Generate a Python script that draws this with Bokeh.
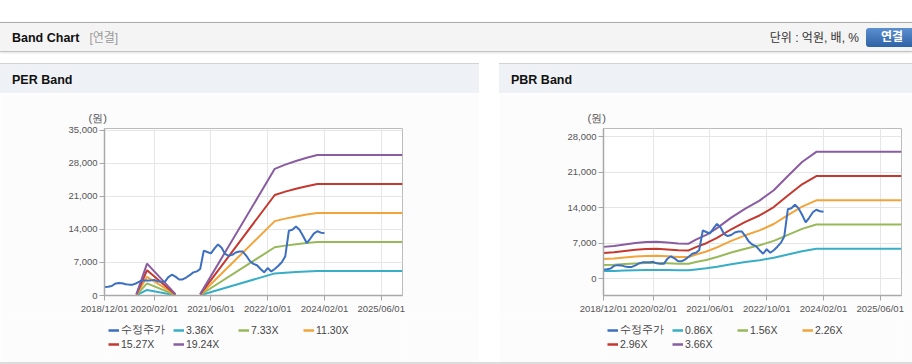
import pandas as pd
from bokeh.plotting import figure
from bokeh.models import (Range1d, FixedTicker, NumeralTickFormatter, DatetimeTickFormatter,
                          Legend, LegendItem, Div)
from bokeh.layouts import column, row
from bokeh.embed import file_html
from bokeh.resources import INLINE

# ---------------- data ----------------
x_start = "2018-12-01"
x_end = "2025-12-01"
x_tick_dates = ["2018-12-01", "2020-02-01", "2021-06-01", "2022-10-01", "2024-02-01", "2025-06-01"]

# adjusted price (수정주가), monthly from 2018-12
price_first_month = "2018-12-01"
price = [1800, 1850, 2000, 2500, 2650, 2600, 2400, 2300, 2300, 2600,
         3000, 3200, 3200, 3200, 3300, 3000, 2900, 2900, 3900, 4400,
         4000, 3400, 3400, 3800, 4300, 4900, 5100, 5600, 9500, 9200,
         8900, 9900, 10800, 10100, 8800, 8400, 8600, 9100, 9300, 9300,
         8400, 7300, 6700, 6400, 5600, 4900, 5800, 5100, 5600, 6300,
         7100, 8300, 13700, 13900, 14600, 13900, 12600, 11100, 12000, 13100,
         13600, 13300, 13200]

# PER band: EPS base and multiples
per_band_dates = ["2019-09-01", "2019-12-01", "2020-08-01", "2020-11-01", "2021-03-01",
                  "2022-12-01", "2023-03-01", "2023-06-01", "2023-09-01", "2023-12-01", "2025-12-01"]
per_eps = [15, 350, 15, float("nan"), 15, 1393, 1440, 1480, 1515, 1545, 1545]
per_multiples = [3.36, 7.33, 11.30, 15.27, 19.24]
per_labels = ["3.36X", "7.33X", "11.30X", "15.27X", "19.24X"]
per_yticks = [0, 7000, 14000, 21000, 28000, 35000]

# PBR band: BPS base and multiples
pbr_band_dates = ["2018-12-01", "2019-03-01", "2019-06-01", "2019-09-01", "2019-12-01",
                  "2020-03-01", "2020-06-01", "2020-09-01", "2020-12-01", "2021-02-01",
                  "2021-05-01", "2021-08-01", "2021-12-01", "2022-04-01", "2022-08-01",
                  "2022-12-01", "2023-04-01", "2023-08-01", "2023-12-01", "2025-12-01"]
pbr_bps = [1710, 1760, 1840, 1920, 1975, 1985, 1940, 1890, 1880, 2100,
           2360, 2720, 3290, 3780, 4210, 4770, 5540, 6290, 6840, 6840]
pbr_multiples = [0.86, 1.56, 2.26, 2.96, 3.66]
pbr_labels = ["0.86X", "1.56X", "2.26X", "2.96X", "3.66X"]
pbr_yticks = [0, 7000, 14000, 21000, 28000]

price_label = "수정주가"

# ---------------- styles ----------------
PRICE_COLOR = "#3c6fc0"
BAND_COLORS = ["#38aec6", "#98b95a", "#f2a43a", "#c4392f", "#8a5ca0"]
PANEL_BG = "#fcfcfd"
FONT = "Liberation Sans"
CSS_FONT = "'Liberation Sans','Noto Sans CJK KR',Arial,sans-serif"

price_dates = pd.date_range(price_first_month, periods=len(price), freq="MS")
NAN = float("nan")


def ms(d):
    return pd.Timestamp(d).value / 1e6


def make_chart(band_dates, base, multiples, yticks, yrange, width):
    p = figure(width=width, height=225,
               x_range=Range1d(ms(x_start), ms(x_end)),
               y_range=Range1d(*yrange),
               output_backend="svg", toolbar_location=None,
               min_border_left=104, min_border_right=width - 104 - 298,
               min_border_top=35, min_border_bottom=23,
               background_fill_color="#ffffff", border_fill_color=PANEL_BG,
               outline_line_color="#bcbcbc", outline_line_width=1)
    p.title.text = "(원)"
    p.title.align = "left"
    p.title.offset = -16
    p.title.text_font = FONT
    p.title.text_font_size = "11px"
    p.title.text_font_style = "normal"
    p.title.text_color = "#555555"

    bd = [ms(d) for d in band_dates]
    pdates = [ms(d) for d in price_dates]
    for mult, col in zip(multiples, BAND_COLORS):
        ys = [b * mult for b in base]
        p.line(bd, ys, line_color=col, line_width=2)
    p.line(pdates, price, line_color=PRICE_COLOR, line_width=2)

    xt = FixedTicker(ticks=[ms(d) for d in x_tick_dates], minor_ticks=[])
    yt = FixedTicker(ticks=yticks, minor_ticks=[])
    p.xaxis.ticker = xt
    p.xgrid.ticker = xt
    p.yaxis.ticker = yt
    p.ygrid.ticker = yt
    fmt = "%Y/%m/%d"
    p.xaxis.formatter = DatetimeTickFormatter(days=fmt, months=fmt, years=fmt)
    p.yaxis.formatter = NumeralTickFormatter(format="0,0")
    for ax in (p.xaxis, p.yaxis):
        ax.axis_line_color = "#a8a8a8"
        ax.axis_line_width = 1.5
        ax.major_tick_line_color = "#a8a8a8"
        ax.major_tick_out = 5
        ax.major_tick_in = 0
        ax.minor_tick_out = 0
        ax.minor_tick_in = 0
        ax.major_label_text_font = FONT
        ax.major_label_text_font_size = "9.5px"
        ax.major_label_text_color = "#555555"
        ax.major_label_standoff = 2
    p.grid.grid_line_color = "#e6e6e6"
    return p


def make_legend_fig(labels, width):
    lf = figure(width=width, height=44, x_range=Range1d(0, 1), y_range=Range1d(0, 1),
                output_backend="svg", toolbar_location=None,
                x_axis_location=None, y_axis_location=None,
                min_border=0, min_border_left=0, min_border_right=0,
                min_border_top=0, min_border_bottom=0,
                background_fill_color=PANEL_BG, border_fill_color=PANEL_BG,
                outline_line_color=None)
    lf.grid.visible = False
    names = [price_label] + labels
    colors = [PRICE_COLOR] + BAND_COLORS
    items = []
    for name, col in zip(names, colors):
        # legend-key renderer only (no visible data)
        r = lf.line([NAN], [NAN], line_color=col, line_width=2.5)
        items.append(LegendItem(label=name, renderers=[r]))
    lg = Legend(items=items, orientation="horizontal", ncols=4, location=(0, 7),
                glyph_width=11, glyph_height=14, label_standoff=2, label_width=52,
                label_height=14, spacing=0, padding=4, margin=0,
                background_fill_alpha=0, border_line_alpha=0,
                label_text_font=FONT, label_text_font_size="10.5px",
                label_text_color="#444444")
    lf.add_layout(lg, "center")
    return lf


per = make_chart(per_band_dates, per_eps, per_multiples, per_yticks, (0, 35340), 479)
pbr = make_chart(pbr_band_dates, pbr_bps, pbr_multiples, pbr_yticks, (-3350, 29650), 413)
per_leg = make_legend_fig(per_labels, 479)
pbr_leg = make_legend_fig(pbr_labels, 413)

header_html = f"""
<div style="position:relative;width:912px;height:63px;background:#ffffff;font-family:{CSS_FONT};overflow:hidden;">
 <div style="position:absolute;left:0;top:22px;width:912px;height:30px;background:#f4f4f4;border-top:1px solid #ababab;border-bottom:1px solid #c4c4c4;box-shadow:0 1px 2px rgba(0,0,0,0.12);"></div>
 <div style="position:absolute;left:12px;top:30px;line-height:16px;font-size:12.5px;font-weight:bold;color:#111;white-space:nowrap;">Band Chart<span style="font-weight:normal;color:#999;margin-left:10px;font-size:12px;">[연결]</span></div>
 <div style="position:absolute;right:53px;top:30px;line-height:16px;font-size:12px;color:#333;white-space:nowrap;">단위 : 억원, 배, %</div>
 <div style="position:absolute;left:866px;top:28px;width:52px;height:19px;border-radius:3px;background:linear-gradient(#5b8fd0,#2e62a6);color:#fff;font-weight:bold;font-size:12px;line-height:19px;text-align:center;">연결</div>
</div>"""


def title_html(text, w):
    return f"""<div style="position:relative;width:{w}px;height:30px;background:#eef1f6;border-top:1px solid #d2d2d2;box-sizing:border-box;font-family:{CSS_FONT};">
 <div style="position:absolute;left:12px;top:8px;line-height:16px;font-size:12.5px;font-weight:bold;color:#111;white-space:nowrap;">{text}</div></div>"""


header = Div(text=header_html, width=912, height=63, margin=0)
per_title = Div(text=title_html("PER Band", 479), width=479, height=30, margin=0)
pbr_title = Div(text=title_html("PBR Band", 413), width=413, height=30, margin=0)
gap = Div(text="", width=20, height=299, margin=0, styles={"background": "#ffffff"})
bottom = Div(text="", width=912, height=2, margin=0, styles={"background": "#dcdcdc"})

layout = column(header,
                row(column(per_title, per, per_leg, spacing=0), gap,
                    column(pbr_title, pbr, pbr_leg, spacing=0), spacing=0),
                bottom, spacing=0)

open("out.html", "w").write(file_html(layout, INLINE))
